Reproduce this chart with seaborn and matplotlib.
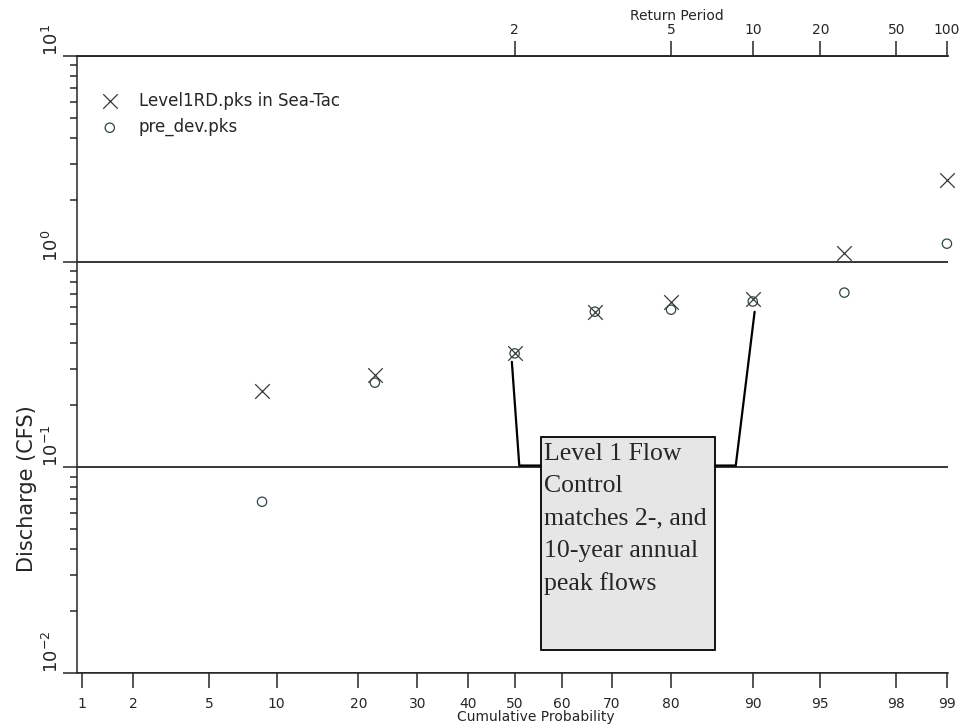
import matplotlib
matplotlib.use("Agg")
import matplotlib.pyplot as plt
import seaborn as sns
import pandas as pd
from matplotlib.patches import Rectangle
from matplotlib.ticker import LogLocator, NullFormatter
from statistics import NormalDist

# ---- values ----
cum_prob = [0.087, 0.226, 0.50, 0.667, 0.80, 0.90, 0.962, 0.99]
level1rd = [0.236, 0.282, 0.361, 0.571, 0.639, 0.66, 1.106, 2.50]
pre_dev = [0.068, 0.258, 0.358, 0.571, 0.584, 0.64, 0.707, 1.223]

prob_ticks = [1, 2, 5, 10, 20, 30, 40, 50, 60, 70, 80, 90, 95, 98, 99]
return_periods = [2, 5, 10, 20, 50, 100]

note = "Level 1 Flow\nControl\nmatches 2-, and\n10-year annual\npeak flows"

nd = NormalDist()
z = nd.inv_cdf

df = pd.DataFrame({"z": [z(p) for p in cum_prob],
                   "level1rd": level1rd, "pre_dev": pre_dev})

sns.set_style("ticks")
plt.rcParams["font.family"] = ["DejaVu Sans"]
plt.rcParams["axes.linewidth"] = 1.1

fig = plt.figure(figsize=(9.63, 7.27), dpi=100)
ax = fig.add_axes([0.080, 0.0743, 0.904, 0.8487])

sns.scatterplot(data=df, x="z", y="level1rd", marker="x", s=110,
                color="#3a3a3a", linewidth=0.9, label="Level1RD.pks in Sea-Tac",
                ax=ax, clip_on=False, zorder=4)
sns.scatterplot(data=df, x="z", y="pre_dev", marker="o", s=45,
                facecolor="none", edgecolor="#2f4545", linewidth=0.9,
                label="pre_dev.pks", ax=ax, clip_on=False, zorder=4)

ax.set_yscale("log")
ax.set_ylim(0.01, 10)
ax.set_xlim(-2.355, 2.33)

# left axis
ax.yaxis.set_minor_locator(LogLocator(base=10, subs=range(2, 10), numticks=20))
ax.yaxis.set_minor_formatter(NullFormatter())
ax.set_yticks([0.01, 0.1, 1, 10])
ax.set_yticklabels([r"$10^{-2}$", r"$10^{-1}$", r"$10^{0}$", r"$10^{1}$"],
                   rotation=90, va="bottom", ha="right", fontsize=13)
ax.tick_params(axis="y", which="major", direction="out", length=10, width=1.1, pad=1)
ax.tick_params(axis="y", which="minor", direction="out", length=5, width=1.1)
ax.grid(axis="y", which="major", color="black", linewidth=1.1)

# bottom axis: normal probability scale
ax.set_xticks([z(p / 100) for p in prob_ticks])
ax.set_xticklabels([str(p) for p in prob_ticks], fontsize=10)
ax.tick_params(axis="x", direction="out", length=11, width=1.1, pad=6)
ax.set_xlabel("Cumulative Probability", fontsize=10)
ax.xaxis.set_label_coords(0.527, -0.06)

ax.set_ylabel("Discharge (CFS)", fontsize=15)
ax.yaxis.set_label_coords(-0.046, 0.298)

ax.spines["right"].set_visible(False)

# top axis: return period
ax2 = ax.twiny()
ax2.set_xlim(ax.get_xlim())
ax2.set_xticks([z(1 - 1 / t) for t in return_periods])
ax2.set_xticklabels([str(t) for t in return_periods], fontsize=10)
ax2.tick_params(axis="x", direction="out", length=11, width=1.1, pad=3)
ax2.set_xlabel("Return Period", fontsize=10)
ax2.xaxis.set_label_coords(0.689, 1.058)
for s in ["left", "right", "bottom"]:
    ax2.spines[s].set_visible(False)

# legend
ax.legend(loc="upper left", bbox_to_anchor=(0.029, 0.942), frameon=False,
          fontsize=12, handlelength=0.9, handletextpad=1.3, labelspacing=0.5,
          borderpad=0, borderaxespad=0)

# annotation box with leader lines
box_x0, box_x1 = 0.14, 1.08
box_y0, box_y1 = 0.0130, 0.141
ax.add_patch(Rectangle((box_x0, box_y0), box_x1 - box_x0, box_y1 - box_y0,
                       facecolor="#e6e6e6", edgecolor="black", linewidth=1.3,
                       zorder=5))
ax.text(box_x0 + 0.02, box_y1 * 0.93, note, family="Liberation Serif",
        fontsize=18.5, va="top", ha="left", linespacing=1.6, zorder=6)

ax.plot([z(0.5) - 0.015, 0.025, box_x0], [0.326, 0.102, 0.102],
        color="black", linewidth=1.6, zorder=5)
ax.plot([z(0.90) + 0.01, 1.19, box_x1], [0.571, 0.102, 0.102],
        color="black", linewidth=1.6, zorder=5)

fig.savefig("out.png", dpi=100)
